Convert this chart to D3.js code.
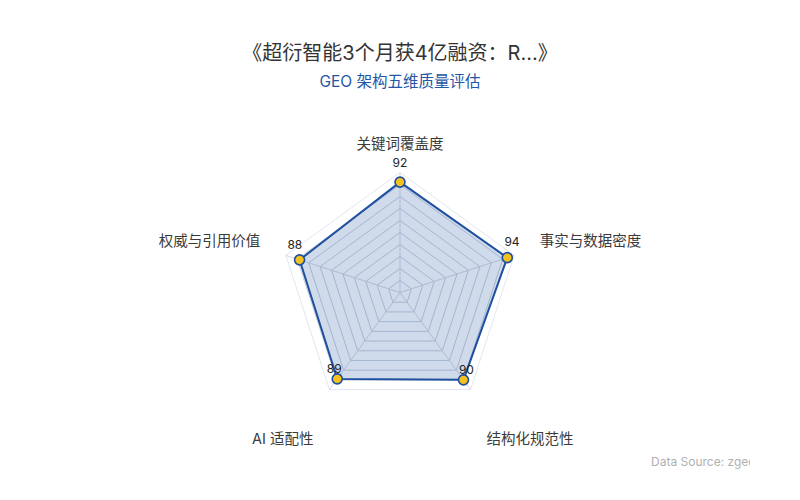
<!DOCTYPE html>
<html>
<head>
<meta charset="utf-8">
<script src="https://cdn.jsdelivr.net/npm/d3@7"></script>
<style>
  body { margin: 0; background: #fff; }
  text { font-family: Inter, "Noto Sans CJK SC", sans-serif; }
</style>
</head>
<body>
<div id="chart"></div>
<script>
// chart data
var indicators = ["关键词覆盖度", "事实与数据密度", "结构化规范性", "AI 适配性", "权威与引用价值"];
var scores = [92, 94, 90, 89, 88];
var maxScore = 100;
var gridLevels = [10, 20, 30, 40, 50, 60, 70, 80, 90, 100];

var titleText = "《超衍智能3个月获4亿融资：R...》";
var subtitleText = "GEO 架构五维质量评估";
var sourceText = "Data Source: zgeo.ai";

var width = 800, height = 500;
var cx = 400, cy = 292.5, R = 120;

var svg = d3.select("#chart").append("svg")
    .attr("width", width)
    .attr("height", height);

// scales
var rScale = d3.scaleLinear().domain([0, maxScore]).range([0, R]);
var angle = d3.scaleLinear().domain([0, indicators.length]).range([0, 2 * Math.PI]);

function pt(i, r) {
  var a = angle(i);
  return [cx + r * Math.sin(a), cy - r * Math.cos(a)];
}

// titles
svg.append("text")
    .attr("x", width / 2).attr("y", 60)
    .attr("text-anchor", "middle")
    .style("font-size", "20px")
    .style("fill", "#333")
    .text(titleText);

svg.append("text")
    .attr("x", width / 2).attr("y", 87)
    .attr("text-anchor", "middle")
    .style("font-size", "15.5px")
    .style("fill", "#2457a6")
    .text(subtitleText);

var g = svg.append("g");

// grid rings
var ring = d3.lineRadial()
    .angle(function(d, i) { return angle(i); })
    .curve(d3.curveLinearClosed);

g.selectAll(".ring")
    .data(gridLevels)
  .enter().append("path")
    .attr("class", "ring")
    .attr("transform", "translate(" + cx + "," + cy + ")")
    .attr("d", function(lv) {
      return ring.radius(rScale(lv))(indicators.map(function() { return lv; }));
    })
    .style("fill", "none")
    .style("stroke", function(lv) { return lv === maxScore ? "#e3e7ef" : "#c9d0dc"; })
    .style("stroke-width", 1);

// spokes
g.selectAll(".spoke")
    .data(indicators)
  .enter().append("line")
    .attr("class", "spoke")
    .attr("x1", cx).attr("y1", cy)
    .attr("x2", function(d, i) { return pt(i, rScale(maxScore))[0]; })
    .attr("y2", function(d, i) { return pt(i, rScale(maxScore))[1]; })
    .style("stroke", "#d3d9e3")
    .style("stroke-width", 1);

// data polygon
var area = d3.lineRadial()
    .angle(function(d, i) { return angle(i); })
    .radius(function(d) { return rScale(d); })
    .curve(d3.curveLinearClosed);

g.append("path")
    .datum(scores)
    .attr("transform", "translate(" + cx + "," + cy + ")")
    .attr("d", area)
    .style("fill", "#2457a6")
    .style("fill-opacity", 0.22)
    .style("stroke", "#1f4f9f")
    .style("stroke-width", 2)
    .style("stroke-linejoin", "round");

// points
g.selectAll(".dot")
    .data(scores)
  .enter().append("circle")
    .attr("class", "dot")
    .attr("cx", function(d, i) { return pt(i, rScale(d))[0]; })
    .attr("cy", function(d, i) { return pt(i, rScale(d))[1]; })
    .attr("r", 5)
    .style("fill", "#f4c21f")
    .style("stroke", "#1f4f9f")
    .style("stroke-width", 1.6);

// value labels
g.selectAll(".val")
    .data(scores)
  .enter().append("text")
    .attr("class", "val")
    .attr("x", function(d, i) { return pt(i, rScale(d) + 5)[0]; })
    .attr("y", function(d, i) { return pt(i, rScale(d) + 5)[1] - 14; })
    .attr("dy", "0.35em")
    .attr("text-anchor", "middle")
    .style("font-size", "12px")
    .style("fill", "#222")
    .text(function(d) { return d; });

// axis names
g.selectAll(".axis-name")
    .data(indicators)
  .enter().append("text")
    .attr("class", "axis-name")
    .attr("x", function(d, i) { return pt(i, R + 27)[0]; })
    .attr("y", function(d, i) {
      var p = pt(i, R + 27);
      var c = Math.cos(angle(i));
      if (c < -0.5) return p[1] + 27;
      return c > 0.99 ? p[1] - 2 : p[1] - 6;
    })
    .attr("dy", "0.35em")
    .attr("text-anchor", function(d, i) {
      var s = Math.sin(angle(i));
      return Math.abs(s) < 0.01 ? "middle" : (s > 0 ? "start" : "end");
    })
    .style("font-size", "14.5px")
    .style("fill", "#3a3a3a")
    .text(function(d) { return d; });

// data source, cut off at the edge like the original
svg.append("clipPath").attr("id", "srcclip")
  .append("rect").attr("x", 600).attr("y", 440).attr("width", 150).attr("height", 40);

svg.append("text")
    .attr("x", 651).attr("y", 466)
    .attr("clip-path", "url(#srcclip)")
    .style("font-size", "12px")
    .style("fill", "#b0b0b0")
    .text(sourceText);
</script>
</body>
</html>
